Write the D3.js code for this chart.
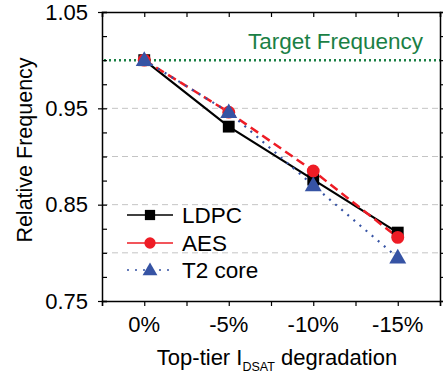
<!DOCTYPE html>
<html><head><meta charset="utf-8">
<script src="https://cdn.jsdelivr.net/npm/d3@7"></script>
<style>body{margin:0;background:#fff}svg{display:block}text{font-family:"Liberation Sans",Arial,sans-serif}</style>
</head><body><svg id="c" width="443" height="373"></svg>
<script>
const categories = ["0%", "-5%", "-10%", "-15%"];
const ldpc = [1.0, 0.931, 0.876, 0.821];
const aes = [1.0, 0.946, 0.885, 0.816];
const t2core = [1.0, 0.946, 0.870, 0.795];
const yTicks = [0.75, 0.85, 0.95, 1.05];
const gridValues = [0.80, 0.85, 0.90, 0.95];
const targetValue = 1.0;
const seriesNames = ["LDPC", "AES", "T2 core"];

const svg = d3.select("#c");
const L = 102, R = 440, T = 12, B = 301;
const x = d3.scaleLinear().domain([-0.5, 3.5]).range([L, R]);
const y = d3.scaleLinear().domain([0.75, 1.05]).range([B, T]);

// grid
svg.append("g").selectAll("line").data(gridValues).join("line")
  .attr("x1", L).attr("x2", R).attr("y1", d => y(d)).attr("y2", d => y(d))
  .attr("stroke", "#c4c4c4").attr("stroke-width", 1).attr("stroke-dasharray", "6,4");
svg.append("line").attr("x1", L + 2).attr("x2", R).attr("y1", y(targetValue)).attr("y2", y(targetValue))
  .attr("stroke", "#1a7f45").attr("stroke-width", 2.5).attr("stroke-dasharray", "2,3");
svg.append("text").attr("x", 423).attr("y", 49).attr("text-anchor", "end")
  .attr("font-size", 22.5).attr("fill", "#1a7f45").text("Target Frequency");

// axes
const minorY = d3.range(0, 13).map(i => 0.75 + i * 0.025);
const minorX = d3.range(-0.5, 3.51, 0.5);
const axL = d3.axisLeft(y).tickValues(minorY).tickSize(-5).tickFormat("");
const axR = d3.axisRight(y).tickValues(minorY).tickSize(3).tickFormat("");
const axT = d3.axisTop(x).tickValues(minorX).tickSize(-5).tickFormat("");
const axB = d3.axisBottom(x).tickValues(minorX).tickSize(5).tickFormat("");
function style(g){ g.select(".domain").attr("stroke","#000").attr("stroke-width",1.5);
  g.selectAll(".tick line").attr("stroke","#000").attr("stroke-width",1.2); }
svg.append("g").attr("transform", `translate(${R},0)`).call(axR).call(style);
svg.append("g").attr("transform", `translate(0,${T})`).call(axT).call(style);
svg.append("g").attr("transform", `translate(0,${B})`).call(axB).call(style);
svg.append("g").attr("transform", `translate(${L},0)`).call(axL).call(style);
// major y ticks crossing outward + labels
const axLm = d3.axisLeft(y).tickValues(yTicks).tickSize(4).tickPadding(10).tickFormat(d3.format(".2f"));
svg.append("g").attr("transform", `translate(${L},0)`).call(axLm)
  .call(g => { g.select(".domain").remove(); g.selectAll(".tick line").attr("stroke","#000").attr("stroke-width",1.2);
    g.selectAll("text").attr("font-size", 22).attr("fill","#000").attr("font-family",'"Liberation Sans",Arial,sans-serif'); });
// x labels
svg.append("g").selectAll("text").data(categories).join("text")
  .attr("x", (d, i) => x(i)).attr("y", 332).attr("text-anchor", "middle")
  .attr("font-size", 22).text(d => d);

// titles
svg.append("text").attr("transform", "translate(32,150) rotate(-90)").attr("text-anchor", "middle")
  .attr("font-size", 21.5).text("Relative Frequency");
const xt = svg.append("text").attr("x", 277).attr("y", 365).attr("text-anchor", "middle").attr("font-size", 22);
xt.append("tspan").text("Top-tier I");
xt.append("tspan").attr("font-size", 12.5).attr("dy", 6).text("DSAT");
xt.append("tspan").attr("dy", -6).text(" degradation");

// series
const line = d3.line().x((d, i) => x(i)).y(d => y(d));
const specs = [
  {data: ldpc, color: "#000", dash: null, w: 2.2, shape: d3.symbolSquare, size: 140},
  {data: aes, color: "#ee1c25", dash: "9,5", w: 2.5, shape: d3.symbolCircle, size: 130},
  {data: t2core, color: "#3653a4", dash: "2,6", w: 2.2, shape: d3.symbolTriangle, size: 125}
];
specs.forEach(s => {
  svg.append("path").attr("d", line(s.data)).attr("fill", "none").attr("stroke", s.color)
    .attr("stroke-width", s.w).attr("stroke-dasharray", s.dash);
});
specs.forEach(s => {
  svg.append("g").selectAll("path").data(s.data).join("path")
    .attr("transform", (d, i) => `translate(${x(i)},${y(d) + (s.shape === d3.symbolTriangle ? 1 : 0)})`)
    .attr("d", d3.symbol(s.shape, s.size)).attr("fill", s.color);
});

// legend
const legY = [215, 243, 270];
const legendDash = [null, null, "2,6"];
const legendSizes = [105, 100, 95];
specs.forEach((s, i) => {
  svg.append("line").attr("x1", 127).attr("x2", 173).attr("y1", legY[i]).attr("y2", legY[i])
    .attr("stroke", s.color).attr("stroke-width", 1.5).attr("stroke-dasharray", legendDash[i]);
  svg.append("path").attr("transform", `translate(150,${legY[i] + (i === 2 ? 1 : 0)})`)
    .attr("d", d3.symbol(s.shape, legendSizes[i])).attr("fill", s.color);
  svg.append("text").attr("x", 182).attr("y", legY[i] + 7.5).attr("font-size", 22.5).text(seriesNames[i]);
});
</script></body></html>
